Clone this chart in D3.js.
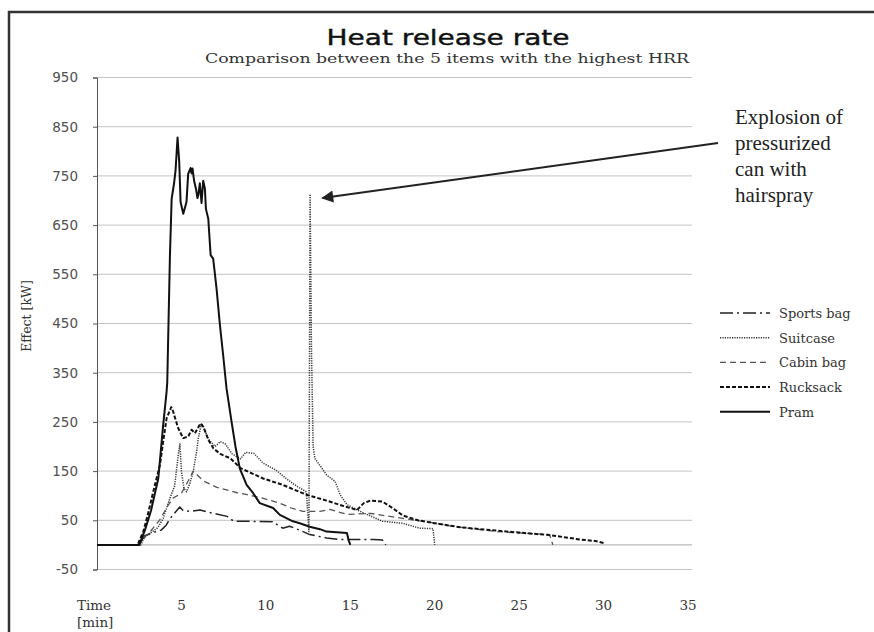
<!DOCTYPE html>
<html><head><meta charset="utf-8">
<script src="https://cdn.jsdelivr.net/npm/d3@7"></script>
<style>body{margin:0;background:#fff;} svg{display:block;}</style>
</head><body>
<svg id="c" width="874" height="632"></svg>
<script>
// ---- data ----
const seriesNames = ["Sports bag","Suitcase","Cabin bag","Rucksack","Pram"];
const yTicks = [-50,50,150,250,350,450,550,650,750,850,950];
const xTicks = [5,10,15,20,25,30,35];
const sportsBag = [[0,0],[2.5,0],[2.8,18],[3.3,25],[3.8,30],[4.1,40],[4.3,52],[4.6,65],[4.9,77],[5.1,70],[5.5,68],[6.1,71],[6.9,64],[7.7,58],[8.1,48],[9.0,48],[10.4,47],[11.0,34],[11.4,38],[12.0,30],[12.6,21],[13.6,14],[14.4,11],[16.4,11],[16.9,10],[17.1,0]];
const suitcase = [[0,0],[2.6,0],[2.8,15],[3.2,25],[3.6,35],[3.92,54],[4.32,95],[4.6,120],[4.8,180],[4.91,205],[5.0,150],[5.15,115],[5.3,108],[5.5,125],[5.7,149],[5.9,190],[6.0,217],[6.19,247],[6.3,240],[6.6,215],[7.0,200],[7.3,210],[7.6,205],[8.0,185],[8.5,175],[8.8,188],[9.3,186],[9.84,166],[10.6,152],[11.2,135],[11.8,120],[12.4,108],[12.55,27],[12.62,713],[12.7,400],[12.8,200],[12.9,176],[13.6,142],[14.1,129],[14.4,102],[14.8,82],[15.4,71],[16.9,48],[18.1,44],[19.1,34],[19.9,33],[20.0,0]];
const cabinBag = [[0,0],[2.5,0],[2.8,15],[3.1,25],[3.7,50],[4.2,80],[4.5,95],[5.0,105],[5.4,130],[5.7,150],[6.0,140],[6.3,130],[7.1,117],[8.3,106],[8.9,102],[9.8,95],[10.8,85],[11.5,75],[12.2,68],[13.2,68],[13.8,72],[14.8,62],[16.2,64],[18.1,54],[20.1,44],[21.0,38],[23.7,27],[26.8,21],[27.0,0]];
const rucksack = [[0,0],[2.4,0],[2.74,27],[3.0,60],[3.33,108],[3.73,163],[3.92,210],[4.12,257],[4.4,280],[4.5,272],[4.81,237],[5.1,217],[5.4,220],[5.6,234],[5.8,227],[6.13,247],[6.3,240],[6.6,213],[6.9,196],[7.3,185],[7.9,176],[8.5,156],[9.2,145],[9.84,135],[11.0,122],[12.4,102],[13.6,90],[14.5,80],[15.4,71],[15.8,85],[16.2,90],[16.9,88],[17.5,75],[18.1,60],[19.0,50],[20.0,44],[21.5,36],[23.0,31],[25.0,25],[26.8,20],[27.4,17],[28.6,11],[29.5,8],[30.0,4]];
const pram = [[0,0],[2.5,0],[2.84,30],[3.2,70],[3.63,135],[3.92,244],[4.12,311],[4.16,330],[4.32,589],[4.42,703],[4.56,734],[4.65,760],[4.77,828],[4.87,778],[4.95,697],[5.11,673],[5.3,697],[5.4,754],[5.54,766],[5.6,755],[5.66,765],[5.75,740],[5.86,724],[5.95,705],[6.0,711],[6.09,735],[6.19,695],[6.29,740],[6.39,724],[6.45,683],[6.59,663],[6.73,589],[6.88,582],[7.08,521],[7.28,447],[7.47,386],[7.67,318],[7.97,250],[8.2,200],[8.46,155],[8.86,122],[9.25,105],[9.64,85],[10.43,75],[10.83,61],[11.6,48],[12.01,44],[12.6,37],[13.2,32],[13.6,27],[14.8,24],[14.9,10],[15.0,0]];
const seriesData = [sportsBag, suitcase, cabinBag, rucksack, pram];

// ---- styles ----
const styles = [
  {dash:"13,4,2,4", w:1.5, c:"#222"},
  {dash:"1.2,1.2", w:1.5, c:"#333"},
  {dash:"6,4", w:1.3, c:"#555"},
  {dash:"4,2", w:2, c:"#111"},
  {dash:null, w:2, c:"#111"}
];

const svg = d3.select("#c");
const serif = "'Liberation Serif',serif";
const wserif = "'DejaVu Serif',serif";
const sans = "'DejaVu Sans',Verdana,sans-serif";

// frame
svg.append("rect").attr("x",9).attr("y",12).attr("width",880).attr("height",640)
  .attr("fill","none").attr("stroke","#333").attr("stroke-width",2.5);

const x = d3.scaleLinear().domain([0,35]).range([97,688]);
const y = d3.scaleLinear().domain([-50,950]).range([569.5,77.5]);

// gridlines
svg.append("g").selectAll("line").data(yTicks).join("line")
  .attr("x1",x(0)).attr("x2",x(35)+4)
  .attr("y1",d=>y(d)).attr("y2",d=>y(d))
  .attr("stroke","#c4c4c4").attr("stroke-width",1);
svg.append("line").attr("x1",x(0)).attr("x2",x(35)+4).attr("y1",y(0)).attr("y2",y(0))
  .attr("stroke","#a8a8a8").attr("stroke-width",1);

// y axis
const yAxis = d3.axisLeft(y).tickValues(yTicks).tickSize(4).tickPadding(15).tickFormat(d=>String(d));
const ga = svg.append("g").attr("transform",`translate(${x(0)},0)`).call(yAxis);
ga.select(".domain").attr("stroke","#555");
ga.selectAll(".tick line").attr("stroke","#555");
ga.selectAll("text").attr("font-family",sans).attr("font-size","13.5px").attr("fill","#505050");

// x tick labels
svg.append("g").selectAll("text").data(xTicks).join("text")
  .attr("x",d=>x(d)).attr("y",610).attr("text-anchor","middle")
  .attr("font-family",wserif).attr("font-size","13.5px").attr("fill","#333").text(d=>d);
svg.append("text").attr("x",77).attr("y",610).attr("font-family",wserif).attr("font-size","13.5px").attr("fill","#333").text("Time");
svg.append("text").attr("x",77).attr("y",627).attr("font-family",wserif).attr("font-size","13.5px").attr("fill","#333").text("[min]");

// y title
svg.append("text").attr("transform","translate(31,316) rotate(-90)").attr("text-anchor","middle")
  .attr("font-family",wserif).attr("font-size","12.5px").attr("fill","#333").text("Effect [kW]");

// titles
svg.append("text").attr("x",448).attr("y",45).attr("text-anchor","middle")
  .attr("font-family",sans).attr("font-size","22px").attr("fill","#111")
  .attr("stroke","#111").attr("stroke-width",0.4)
  .attr("textLength",243).attr("lengthAdjust","spacingAndGlyphs").text("Heat release rate");
svg.append("text").attr("x",447).attr("y",63).attr("text-anchor","middle")
  .attr("font-family",wserif).attr("font-size","13.5px").attr("fill","#333")
  .attr("textLength",484).attr("lengthAdjust","spacingAndGlyphs")
  .text("Comparison between the 5 items with the highest HRR");

// lines
const line = d3.line().x(d=>x(d[0])).y(d=>y(d[1]));
svg.append("g").selectAll("path").data(seriesData).join("path")
  .attr("d",line).attr("fill","none")
  .attr("stroke",(d,i)=>styles[i].c).attr("stroke-width",(d,i)=>styles[i].w)
  .attr("stroke-dasharray",(d,i)=>styles[i].dash).attr("stroke-linejoin","round");

// legend
const lg = svg.append("g").selectAll("g").data(seriesNames).join("g")
  .attr("transform",(d,i)=>`translate(720,${313+i*24.7})`);
lg.append("line").attr("x1",0).attr("x2",50).attr("y1",0).attr("y2",0)
  .attr("stroke",(d,i)=>styles[i].c).attr("stroke-width",(d,i)=>styles[i].w)
  .attr("stroke-dasharray",(d,i)=>styles[i].dash);
lg.append("text").attr("x",59).attr("y",5).attr("font-family",wserif).attr("font-size","13px").attr("fill","#333").text(d=>d);

// annotation
const ann = ["Explosion of","pressurized","can with","hairspray"];
svg.append("g").selectAll("text").data(ann).join("text")
  .attr("x",735).attr("y",(d,i)=>124+i*26).attr("font-family",serif).attr("font-size","21px").attr("fill","#222").text(d=>d);
svg.append("defs").append("marker").attr("id","ah").attr("viewBox","0 0 10 10").attr("refX",9).attr("refY",5)
  .attr("markerWidth",8).attr("markerHeight",6).attr("markerUnits","strokeWidth").attr("orient","auto")
  .append("path").attr("d","M0,0L10,5L0,10z").attr("fill","#222");
svg.append("line").attr("x1",718).attr("y1",143).attr("x2",x(13.35)).attr("y2",y(705))
  .attr("stroke","#222").attr("stroke-width",2).attr("marker-end","url(#ah)");
</script>
</body></html>
